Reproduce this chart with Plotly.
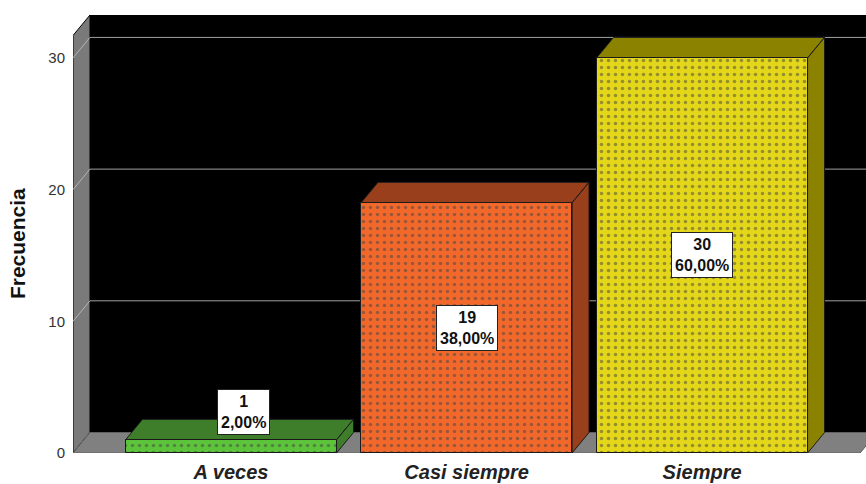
import plotly.graph_objects as go

# Frequency table
categories = ["A veces", "Casi siempre", "Siempre"]
counts = [1, 19, 30]
percents = ["2,00%", "38,00%", "60,00%"]
y_ticks = [0, 10, 20, 30]

front_colors = ["#5cc43a", "#f2682b", "#e4d619"]
dot_colors = ["#2f6e1c", "#8a3514", "#6d6500"]
shade_colors = ["#3e7e2b", "#993f1b", "#8b8300"]

# Axis ranges and the oblique depth of the pseudo-3D box (data units)
x_min, x_max = -0.671, 2.696
x_floor_end = 2.671
y_max = 33.26
dx, dy = 0.072, 1.557
bar_w = 0.896

fig = go.Figure()

shapes = []
# back wall
shapes.append(dict(type="rect", xref="x", yref="y", x0=x_min + dx, x1=x_max + 0.2,
                   y0=dy, y1=y_max + 1, fillcolor="black", line=dict(width=0), layer="below"))
# left wall
shapes.append(dict(type="path", xref="x", yref="y",
                   path=f"M{x_min},0 L{x_min},{y_max - dy} L{x_min + dx},{y_max} L{x_min + dx},{dy} Z",
                   fillcolor="#7a7a7a", line=dict(color="black", width=1), layer="below"))
# gridlines on the back wall and their trace on the left wall
for t in y_ticks[1:]:
    shapes.append(dict(type="line", xref="x", yref="y", x0=x_min + dx, x1=x_max + 0.2,
                       y0=t + dy, y1=t + dy, line=dict(color="#a0a0a0", width=1), layer="below"))
    shapes.append(dict(type="line", xref="x", yref="y", x0=x_min, x1=x_min + dx,
                       y0=t, y1=t + dy, line=dict(color="#b4b4b4", width=1), layer="below"))
# floor
shapes.append(dict(type="path", xref="x", yref="y",
                   path=f"M{x_min},0 L{x_floor_end},0 L{x_floor_end + dx},{dy} L{x_min + dx},{dy} Z",
                   fillcolor="#808080", line=dict(color="#606060", width=1), layer="below"))

# top and side faces of each bar
for i, v in enumerate(counts):
    xl, xr = i - bar_w / 2, i + bar_w / 2
    shapes.append(dict(type="path", xref="x", yref="y",
                       path=f"M{xl},{v} L{xr},{v} L{xr + dx},{v + dy} L{xl + dx},{v + dy} Z",
                       fillcolor=shade_colors[i], line=dict(color="#1a1a1a", width=1), layer="below"))
    shapes.append(dict(type="path", xref="x", yref="y",
                       path=f"M{xr},0 L{xr},{v} L{xr + dx},{v + dy} L{xr + dx},{dy} Z",
                       fillcolor=shade_colors[i], line=dict(color="#1a1a1a", width=1), layer="below"))

# front faces
fig.add_trace(go.Bar(
    x=list(range(len(categories))), y=counts, width=bar_w,
    marker=dict(color=front_colors, line=dict(color="#1a1a1a", width=1),
                pattern=dict(shape=".", fgcolor=dot_colors, size=7, solidity=0.2)),
    hoverinfo="skip", showlegend=False,
))

# value labels
annotations = []
label_min_height = 4.0
for i, (v, p) in enumerate(zip(counts, percents)):
    if v >= label_min_height:
        ax_, ay_, yanc = i, v / 2, "middle"
    else:
        ax_, ay_, yanc = i + dx * 0.75, v + 0.37, "bottom"
    annotations.append(dict(
        x=ax_, y=ay_, xref="x", yref="y", text=f"<b>{v}<br>{p}</b>", showarrow=False,
        yanchor=yanc, xanchor="center",
        font=dict(family="Liberation Sans, Arial, sans-serif", size=16, color="#111"),
        bgcolor="white", bordercolor="#222", borderwidth=1, borderpad=3,
    ))

# y-axis title
annotations.append(dict(
    text="<b>Frecuencia</b>", textangle=-90, showarrow=False,
    xref="paper", yref="paper", x=-0.0706, y=0.477, xanchor="center", yanchor="middle",
    font=dict(family="Liberation Sans, Arial, sans-serif", size=21, color="#111"),
))

fig.update_layout(
    width=866, height=484,
    margin=dict(l=73, r=0, t=15, b=31),
    paper_bgcolor="white", plot_bgcolor="white",
    shapes=shapes, annotations=annotations,
    xaxis=dict(range=[x_min, x_max], tickvals=list(range(len(categories))),
               ticktext=[f"<b><i>{c}</i></b>" for c in categories],
               tickfont=dict(family="Liberation Sans, Arial, sans-serif", size=20, color="#222"),
               showgrid=False, zeroline=False, showline=False, automargin=False,
               ticks="outside", ticklen=1, tickcolor="rgba(0,0,0,0)"),
    yaxis=dict(range=[0, y_max], tickvals=y_ticks, automargin=False,
               tickfont=dict(family="Liberation Sans, Arial, sans-serif", size=15, color="#333"),
               showgrid=False, zeroline=False, showline=False,
               ticks="outside", ticklen=4, tickcolor="rgba(0,0,0,0)"),
    bargap=0,
)

fig.write_html("out.html")
